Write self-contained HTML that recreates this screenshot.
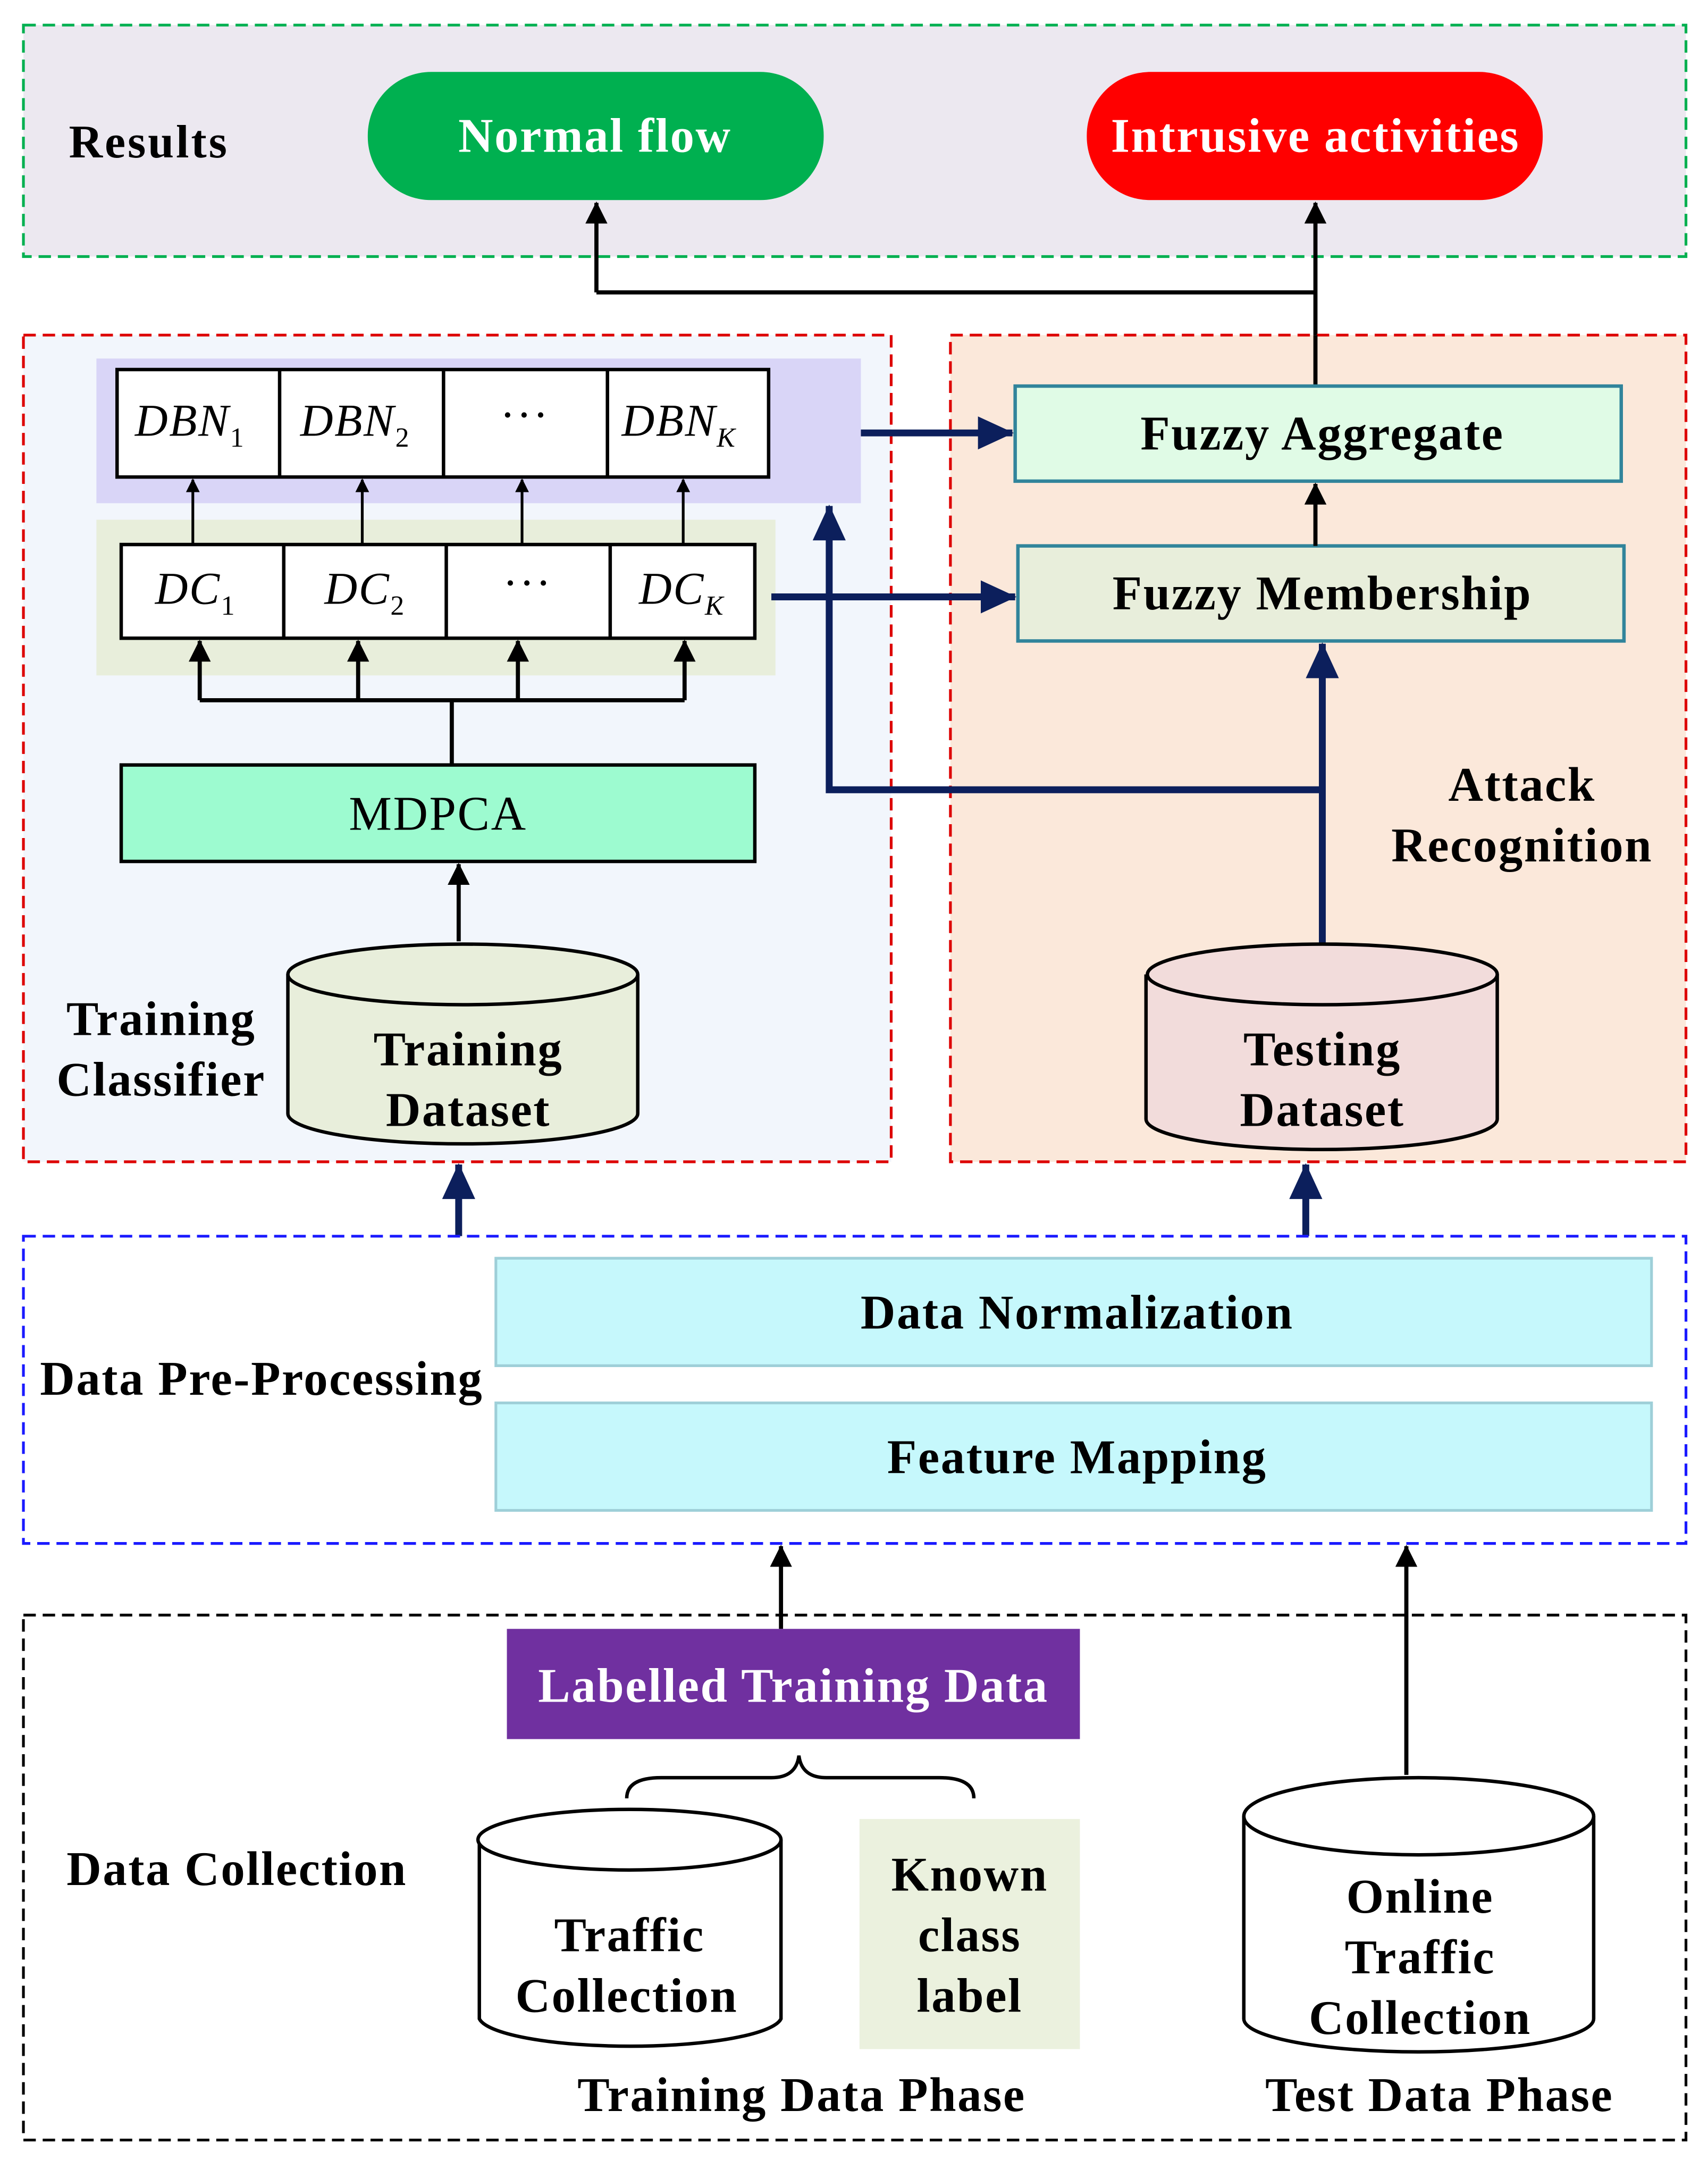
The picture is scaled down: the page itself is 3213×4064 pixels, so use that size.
<!DOCTYPE html>
<html><head><meta charset="utf-8"><style>html,body{margin:0;padding:0;background:#fff}svg{display:block}text{letter-spacing:1px}</style></head><body>
<svg width="3213" height="4064" viewBox="0 0 1240 1568" xmlns="http://www.w3.org/2000/svg" font-family="Liberation Serif, serif">
<defs>
<marker id="a" markerWidth="10" markerHeight="10" refX="9" refY="5" orient="auto" markerUnits="userSpaceOnUse"><path d="M0,0 L10,5 L0,10 z" fill="#000"/></marker>
<marker id="a2" markerWidth="16" markerHeight="16" refX="15" refY="8" orient="auto" markerUnits="userSpaceOnUse"><path d="M0,0 L16,8 L0,16 z" fill="#000"/></marker>
<marker id="n" markerWidth="26" markerHeight="24" refX="25" refY="12" orient="auto" markerUnits="userSpaceOnUse"><path d="M0,0 L26,12 L0,24 z" fill="#0c1f5c"/></marker>
</defs>
<rect width="1240" height="1568" fill="#fff"/>
<rect x="17" y="18" width="1207" height="168" fill="#ece8f0" stroke="#00b050" stroke-width="2" stroke-dasharray="9,5"/>
<text x="50" y="114" font-size="34" font-weight="bold" style="letter-spacing:1.5px">Results</text>
<rect x="267" y="52" width="331" height="93" rx="46" fill="#00b050"/>
<text x="432" y="110" font-size="35" font-weight="bold" fill="#fff" text-anchor="middle">Normal flow</text>
<rect x="789" y="52" width="331" height="93" rx="46" fill="#ff0000"/>
<text x="955" y="110" font-size="35" font-weight="bold" fill="#fff" text-anchor="middle">Intrusive activities</text>
<path d="M433,212 L955,212" stroke="#000" stroke-width="3" fill="none"/>
<path d="M433,212 L433,147" stroke="#000" stroke-width="3" marker-end="url(#a2)"/>
<path d="M955,280 L955,147" stroke="#000" stroke-width="3" marker-end="url(#a2)"/>
<rect x="17" y="243" width="630" height="600" fill="#f2f6fc" stroke="#d00" stroke-width="2" stroke-dasharray="9,5"/>
<rect x="690" y="243" width="534" height="600" fill="#fbe8da" stroke="#d00" stroke-width="2" stroke-dasharray="9,5"/>
<path d="M955,280 L955,243" stroke="#000" stroke-width="3"/>
<rect x="70" y="260" width="555" height="105" fill="#d9d5f7"/>
<rect x="85" y="268" width="473" height="78" fill="#fff" stroke="#000" stroke-width="2.5"/>
<path d="M203,268V346M322,268V346M441,268V346" stroke="#000" stroke-width="2.5"/>
<g font-size="33" font-style="italic" text-anchor="middle">
<text x="138" y="316">DBN<tspan font-size="20" font-style="normal" dy="8">1</tspan></text>
<text x="258" y="316">DBN<tspan font-size="20" font-style="normal" dy="8">2</tspan></text>
<text x="381" y="312" font-style="normal">···</text>
<text x="493" y="316">DBN<tspan font-size="20" dy="8">K</tspan></text>
</g>
<rect x="70" y="377" width="493" height="113" fill="#e8eedb"/>
<rect x="88" y="395" width="460" height="68" fill="#fff" stroke="#000" stroke-width="2.5"/>
<path d="M206,395V463M324,395V463M443,395V463" stroke="#000" stroke-width="2.5"/>
<g font-size="33" font-style="italic" text-anchor="middle">
<text x="142" y="438">DC<tspan font-size="20" font-style="normal" dy="8">1</tspan></text>
<text x="265" y="438">DC<tspan font-size="20" font-style="normal" dy="8">2</tspan></text>
<text x="383" y="434" font-style="normal">···</text>
<text x="495" y="438">DC<tspan font-size="20" dy="8">K</tspan></text>
</g>
<g stroke="#000" stroke-width="2">
<path d="M140,394V348" marker-end="url(#a)"/><path d="M263,394V348" marker-end="url(#a)"/><path d="M379,394V348" marker-end="url(#a)"/><path d="M496,394V348" marker-end="url(#a)"/>
</g>
<g stroke="#000" stroke-width="3" fill="none">
<path d="M328,555V508M145,508H497"/>
<path d="M145,508V465" marker-end="url(#a2)"/><path d="M260,508V465" marker-end="url(#a2)"/><path d="M376,508V465" marker-end="url(#a2)"/><path d="M497,508V465" marker-end="url(#a2)"/>
<path d="M333,683V627" marker-end="url(#a2)"/>
</g>
<rect x="88" y="555" width="460" height="70" fill="#9dfbd0" stroke="#000" stroke-width="2.5"/>
<text x="318" y="602" font-size="35" text-anchor="middle">MDPCA</text>
<path d="M209,707 V808 A127,22 0 0 0 463,808 V707" fill="#e8eedb" stroke="#000" stroke-width="2.5"/>
<ellipse cx="336" cy="707" rx="127" ry="22" fill="#e8eedb" stroke="#000" stroke-width="2.5"/>
<g font-size="35" font-weight="bold" text-anchor="middle">
<text x="340" y="773">Training</text>
<text x="340" y="817">Dataset</text>
<text x="117" y="751">Training</text>
<text x="117" y="795">Classifier</text>
</g>
<rect x="737" y="280" width="440" height="69" fill="#e0fbe6" stroke="#31849b" stroke-width="2.5"/>
<text x="960" y="326" font-size="35" font-weight="bold" text-anchor="middle">Fuzzy Aggregate</text>
<rect x="739" y="396" width="440" height="69" fill="#e8eedb" stroke="#31849b" stroke-width="2.5"/>
<text x="960" y="442" font-size="35" font-weight="bold" text-anchor="middle">Fuzzy Membership</text>
<path d="M955,396V351" stroke="#000" stroke-width="3" marker-end="url(#a2)"/>
<g stroke="#0c1f5c" stroke-width="5" fill="none">
<path d="M625,314H735" marker-end="url(#n)"/>
<path d="M560,433H737" marker-end="url(#n)"/>
<path d="M960,685V467" marker-end="url(#n)"/>
<path d="M960,573H602V367" marker-end="url(#n)"/>
<path d="M333,897V845" marker-end="url(#n)"/>
<path d="M948,897V845" marker-end="url(#n)"/>
</g>
<g font-size="35" font-weight="bold" text-anchor="middle">
<text x="1105" y="581">Attack</text>
<text x="1105" y="625">Recognition</text>
</g>
<path d="M832,707 V812 A127,22 0 0 0 1087,812 V707" fill="#f2dcdb" stroke="#000" stroke-width="2.5"/>
<ellipse cx="960" cy="707" rx="127" ry="22" fill="#f2dcdb" stroke="#000" stroke-width="2.5"/>
<g font-size="35" font-weight="bold" text-anchor="middle">
<text x="960" y="773">Testing</text>
<text x="960" y="817">Dataset</text>
</g>
<rect x="17" y="897" width="1207" height="223" fill="#fff" stroke="#1a1aff" stroke-width="2" stroke-dasharray="9,5"/>
<rect x="360" y="913" width="839" height="78" fill="#c6f8fc" stroke="#9ecfd8" stroke-width="2"/>
<rect x="360" y="1018" width="839" height="78" fill="#c6f8fc" stroke="#9ecfd8" stroke-width="2"/>
<g font-size="35" font-weight="bold" text-anchor="middle">
<text x="782" y="964">Data Normalization</text>
<text x="782" y="1069">Feature Mapping</text>
<text x="190" y="1012">Data Pre-Processing</text>
</g>
<rect x="17" y="1172" width="1207" height="381" fill="#fff" stroke="#000" stroke-width="2" stroke-dasharray="9,5"/>
<path d="M567,1182V1122" stroke="#000" stroke-width="3" marker-end="url(#a2)"/>
<path d="M1021,1288V1122" stroke="#000" stroke-width="3" marker-end="url(#a2)"/>
<rect x="368" y="1182" width="416" height="80" fill="#7030a0"/>
<text x="576" y="1235" font-size="35" font-weight="bold" fill="#fff" text-anchor="middle">Labelled Training Data</text>
<path d="M455,1305 Q455,1290 480,1290 L560,1290 Q578,1290 580,1274 Q582,1290 600,1290 L682,1290 Q707,1290 707,1305" fill="none" stroke="#000" stroke-width="2.5"/>
<path d="M348,1335 V1465 A110,22 0 0 0 567,1465 V1335" fill="#fff" stroke="#000" stroke-width="2.5"/>
<ellipse cx="457" cy="1335" rx="110" ry="22" fill="#fff" stroke="#000" stroke-width="2.5"/>
<rect x="624" y="1320" width="160" height="167" fill="#ebf1de"/>
<path d="M903,1318 V1465 A127,24 0 0 0 1157,1465 V1318" fill="#fff" stroke="#000" stroke-width="2.5"/>
<ellipse cx="1030" cy="1318" rx="127" ry="28" fill="#fff" stroke="#000" stroke-width="2.5"/>
<g font-size="35" font-weight="bold" text-anchor="middle">
<text x="457" y="1416">Traffic</text>
<text x="455" y="1460">Collection</text>
<text x="704" y="1372">Known</text>
<text x="704" y="1416">class</text>
<text x="704" y="1460">label</text>
<text x="1031" y="1388">Online</text>
<text x="1031" y="1432">Traffic</text>
<text x="1031" y="1476">Collection</text>
<text x="172" y="1368">Data Collection</text>
<text x="582" y="1532">Training Data Phase</text>
<text x="1045" y="1532">Test Data Phase</text>
</g>
</svg>
</body></html>
